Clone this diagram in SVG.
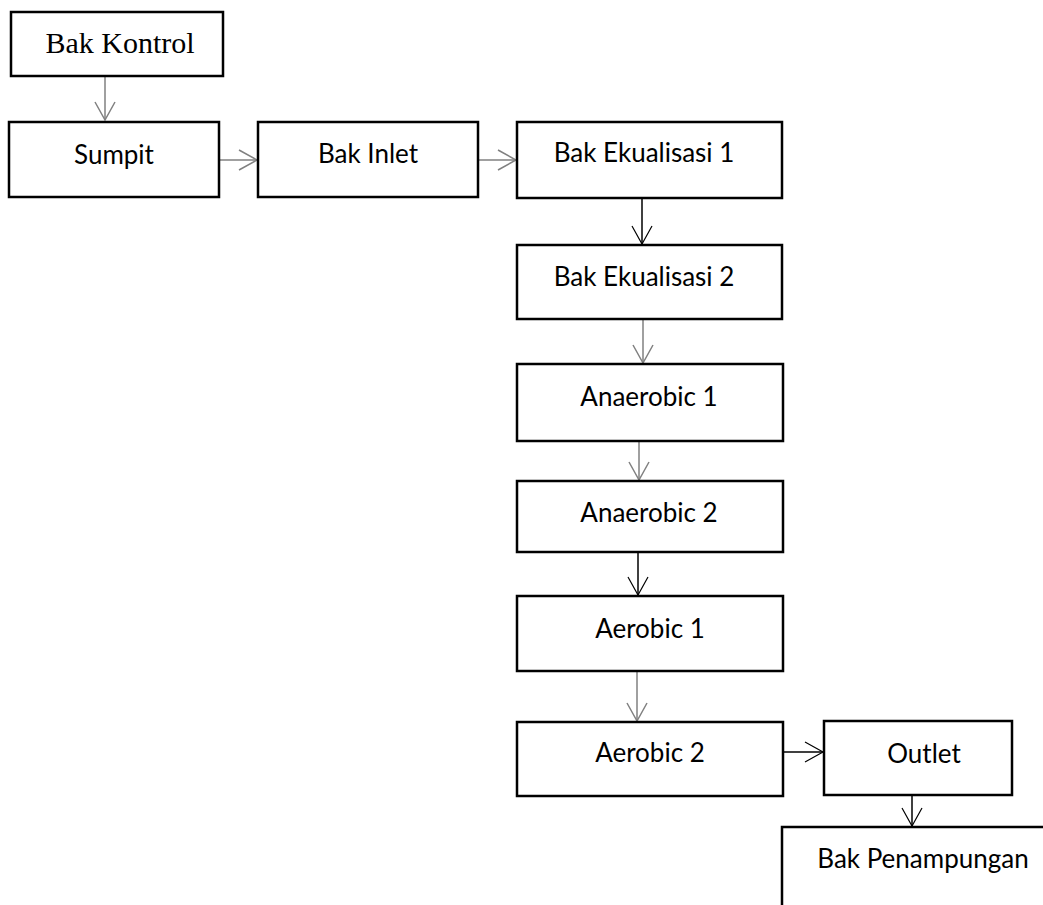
<svg xmlns="http://www.w3.org/2000/svg" width="1043" height="905" viewBox="0 0 1043 905">
<style>
.box{fill:#fff;stroke:#000;stroke-width:2.5}
.t{font-family:Lato,"Open Sans",sans-serif;font-size:26px;fill:#000;text-anchor:middle}
.ts{font-family:"Liberation Serif",serif;font-size:30px;fill:#000;text-anchor:middle}
.c{fill:none;stroke-width:1.5}
.g{stroke:#808080}
.k{stroke:#000}
</style>
<defs>
<marker id="ag" markerUnits="userSpaceOnUse" markerWidth="24" markerHeight="24" viewBox="-20 -12 22 24" refX="0" refY="0" orient="auto">
<path d="M-18,-10 L0,0 L-18,10" fill="none" stroke="#808080" stroke-width="1.5"/>
</marker>
<marker id="ak" markerUnits="userSpaceOnUse" markerWidth="24" markerHeight="24" viewBox="-20 -12 22 24" refX="0" refY="0" orient="auto">
<path d="M-18,-10 L0,0 L-18,10" fill="none" stroke="#000" stroke-width="1.2"/>
</marker>
</defs>
<rect width="1043" height="905" fill="#fff"/>
<g id="connectors">
<line class="c g" x1="105" y1="77" x2="105" y2="120" marker-end="url(#ag)"/>
<line class="c g" x1="219" y1="160" x2="257" y2="160" marker-end="url(#ag)"/>
<line class="c g" x1="478" y1="160" x2="516" y2="160" marker-end="url(#ag)"/>
<line class="c k" x1="642" y1="198" x2="642" y2="244" marker-end="url(#ak)"/>
<line class="c g" x1="643" y1="319" x2="643" y2="363" marker-end="url(#ag)"/>
<line class="c g" x1="639" y1="441" x2="639" y2="480" marker-end="url(#ag)"/>
<line class="c k" x1="638" y1="552" x2="638" y2="595" marker-end="url(#ak)"/>
<line class="c g" x1="637" y1="671" x2="637" y2="721" marker-end="url(#ag)"/>
<line class="c k" x1="783" y1="752" x2="823" y2="752" marker-end="url(#ak)"/>
<line class="c k" x1="912" y1="787" x2="912" y2="826" marker-end="url(#ak)"/>
</g>
<g id="bak-kontrol"><rect class="box" x="11" y="12" width="212" height="64"/><text class="ts" x="120" y="53">Bak Kontrol</text></g>
<g id="sumpit"><rect class="box" x="9" y="122" width="210" height="75"/><text class="t" x="114" y="164">Sumpit</text></g>
<g id="bak-inlet"><rect class="box" x="258" y="122" width="220" height="75"/><text class="t" x="368" y="163">Bak Inlet</text></g>
<g id="bak-ekualisasi-1"><rect class="box" x="517" y="122" width="265" height="76"/><text class="t" x="644" y="162">Bak Ekualisasi 1</text></g>
<g id="bak-ekualisasi-2"><rect class="box" x="517" y="245" width="265" height="74"/><text class="t" x="644" y="286">Bak Ekualisasi 2</text></g>
<g id="anaerobic-1"><rect class="box" x="517" y="364" width="266" height="77"/><text class="t" x="649" y="406">Anaerobic 1</text></g>
<g id="anaerobic-2"><rect class="box" x="517" y="481" width="266" height="71"/><text class="t" x="649" y="522">Anaerobic 2</text></g>
<g id="aerobic-1"><rect class="box" x="517" y="596" width="266" height="75"/><text class="t" x="650" y="638">Aerobic 1</text></g>
<g id="aerobic-2"><rect class="box" x="517" y="722" width="266" height="74"/><text class="t" x="650" y="762">Aerobic 2</text></g>
<g id="outlet"><rect class="box" x="824" y="721" width="188" height="74"/><text class="t" x="924" y="763">Outlet</text></g>
<g id="bak-penampungan"><rect class="box" x="782" y="827" width="300" height="120"/><text class="t" x="923" y="868">Bak Penampungan</text></g>
</svg>
